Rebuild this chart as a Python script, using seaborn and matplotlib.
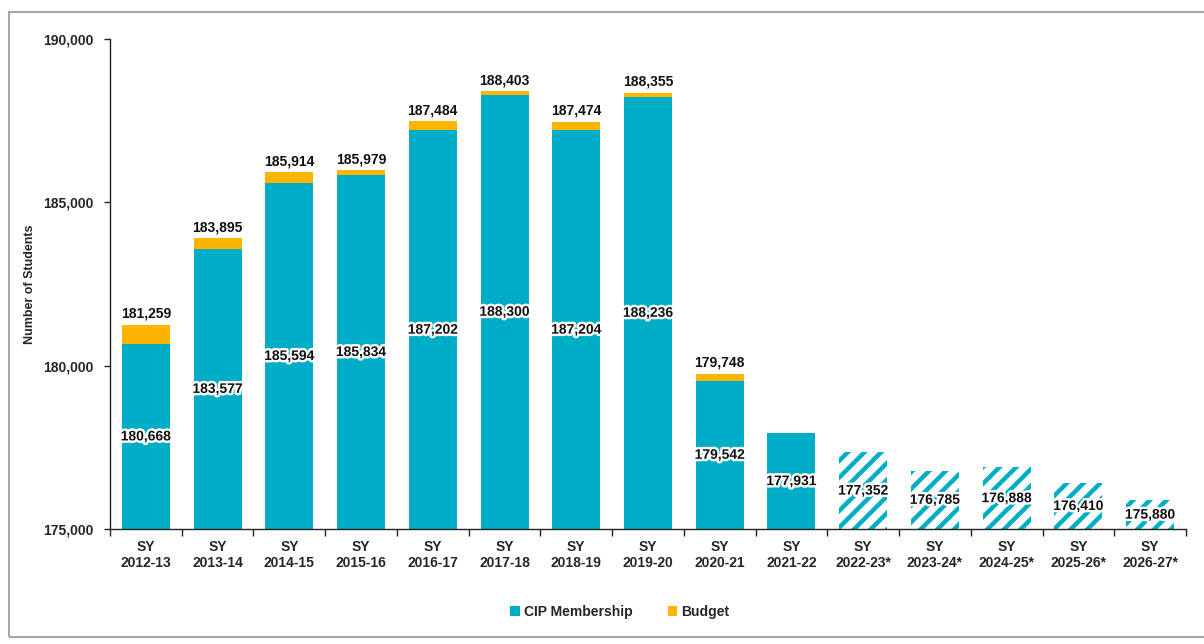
import numpy as np
import pandas as pd
import matplotlib
matplotlib.use("Agg")
import matplotlib.pyplot as plt
import matplotlib.patheffects as pe
from matplotlib.patches import Patch, Rectangle
from matplotlib.ticker import FuncFormatter, FixedLocator
import seaborn as sns

categories = ["SY\n2012-13", "SY\n2013-14", "SY\n2014-15", "SY\n2015-16", "SY\n2016-17",
              "SY\n2017-18", "SY\n2018-19", "SY\n2019-20", "SY\n2020-21", "SY\n2021-22",
              "SY\n2022-23*", "SY\n2023-24*", "SY\n2024-25*", "SY\n2025-26*", "SY\n2026-27*"]
cip_membership = [180668, 183577, 185594, 185834, 187202, 188300, 187204, 188236, 179542,
                  177931, 177352, 176785, 176888, 176410, 175880]
budget = [181259, 183895, 185914, 185979, 187484, 188403, 187474, 188355, 179748,
          np.nan, np.nan, np.nan, np.nan, np.nan, np.nan]
projected = [False] * 10 + [True] * 5
y_ticks = [175000, 180000, 185000, 190000]

TEAL = "#00ADC6"
ORANGE = "#FFB400"

sns.set_theme(style="white")
plt.rcParams["font.family"] = ["Liberation Sans", "DejaVu Sans"]
plt.rcParams["hatch.linewidth"] = 3.2

df = pd.DataFrame({"cat": categories, "cip": cip_membership, "budget": budget})

fig = plt.figure(figsize=(12.04, 6.44), dpi=100)
W, H = 1204, 644
ax = fig.add_axes([110 / W, 1 - 529 / H, (1186 - 110) / W, (529 - 39) / H])

# border around the chart area
fig.patches.append(Rectangle((9 / W, 1 - 637 / H), (1215 - 9) / W, (637 - 12) / H,
                             transform=fig.transFigure, fill=False,
                             edgecolor="#A6A6A6", linewidth=1.5))

sns.barplot(data=df, x="cat", y="budget", order=categories, color=ORANGE,
            width=0.67, errorbar=None, saturation=1, ax=ax, linewidth=0)
sns.barplot(data=df, x="cat", y="cip", order=categories, color=TEAL,
            width=0.67, errorbar=None, saturation=1, ax=ax, linewidth=0)

cip_bars = ax.containers[-1]
for bar, proj in zip(cip_bars, projected):
    if proj:
        bar.set_facecolor("white")
        bar.set_edgecolor(TEAL)
        bar.set_hatch("//")
        bar.set_linewidth(0)

ymin, ymax = 175000, 190000
ax.set_ylim(ymin, ymax)
ax.set_xlim(-0.5, len(categories) - 0.5)

stroke = [pe.withStroke(linewidth=3.5, foreground="white")]
for i, (c, b) in enumerate(zip(cip_membership, budget)):
    ax.text(i, (ymin + c) / 2, f"{c:,}", ha="center", va="center", fontsize=10,
            fontweight="bold", color="#111111", path_effects=stroke, zorder=5)
    if not np.isnan(b):
        ax.annotate(f"{int(b):,}", (i, b), xytext=(0, 3), textcoords="offset points",
                    ha="center", va="bottom", fontsize=10, fontweight="bold",
                    color="#111111", zorder=5)

ax.yaxis.set_major_locator(FixedLocator(y_ticks))
ax.yaxis.set_major_formatter(FuncFormatter(lambda v, p: f"{int(v):,}"))
for lab in ax.get_yticklabels():
    lab.set_fontweight("bold")
    lab.set_fontsize(10)
ax.tick_params(axis="y", which="major", direction="out", length=4, width=1,
               color="#222222", pad=8, left=True)

ax.set_xticks(range(len(categories)))
ax.set_xticklabels(categories, fontsize=10, fontweight="bold")
ax.set_xticks(np.arange(-0.5, len(categories), 1), minor=True)
ax.tick_params(axis="x", which="major", length=0, pad=8)
ax.tick_params(axis="x", which="minor", direction="out", length=5, width=1,
               color="#222222", bottom=True)

ax.set_xlabel("")
ax.set_ylabel("Number of Students", fontsize=9, fontweight="bold", labelpad=5)

for s in ["top", "right"]:
    ax.spines[s].set_visible(False)
for s in ["left", "bottom"]:
    ax.spines[s].set_color("#222222")
    ax.spines[s].set_linewidth(1)

handles = [Patch(facecolor=TEAL, edgecolor="none", label="CIP Membership"),
           Patch(facecolor=ORANGE, edgecolor="none", label="Budget")]
leg = fig.legend(handles=handles, loc="center", bbox_to_anchor=(620 / W, 1 - 612 / H),
                 ncol=2, frameon=False, handlelength=0.7, handleheight=0.7,
                 handletextpad=0.3, columnspacing=2.5,
                 prop={"weight": "bold", "size": 10})

fig.savefig("out.png", dpi=100)
